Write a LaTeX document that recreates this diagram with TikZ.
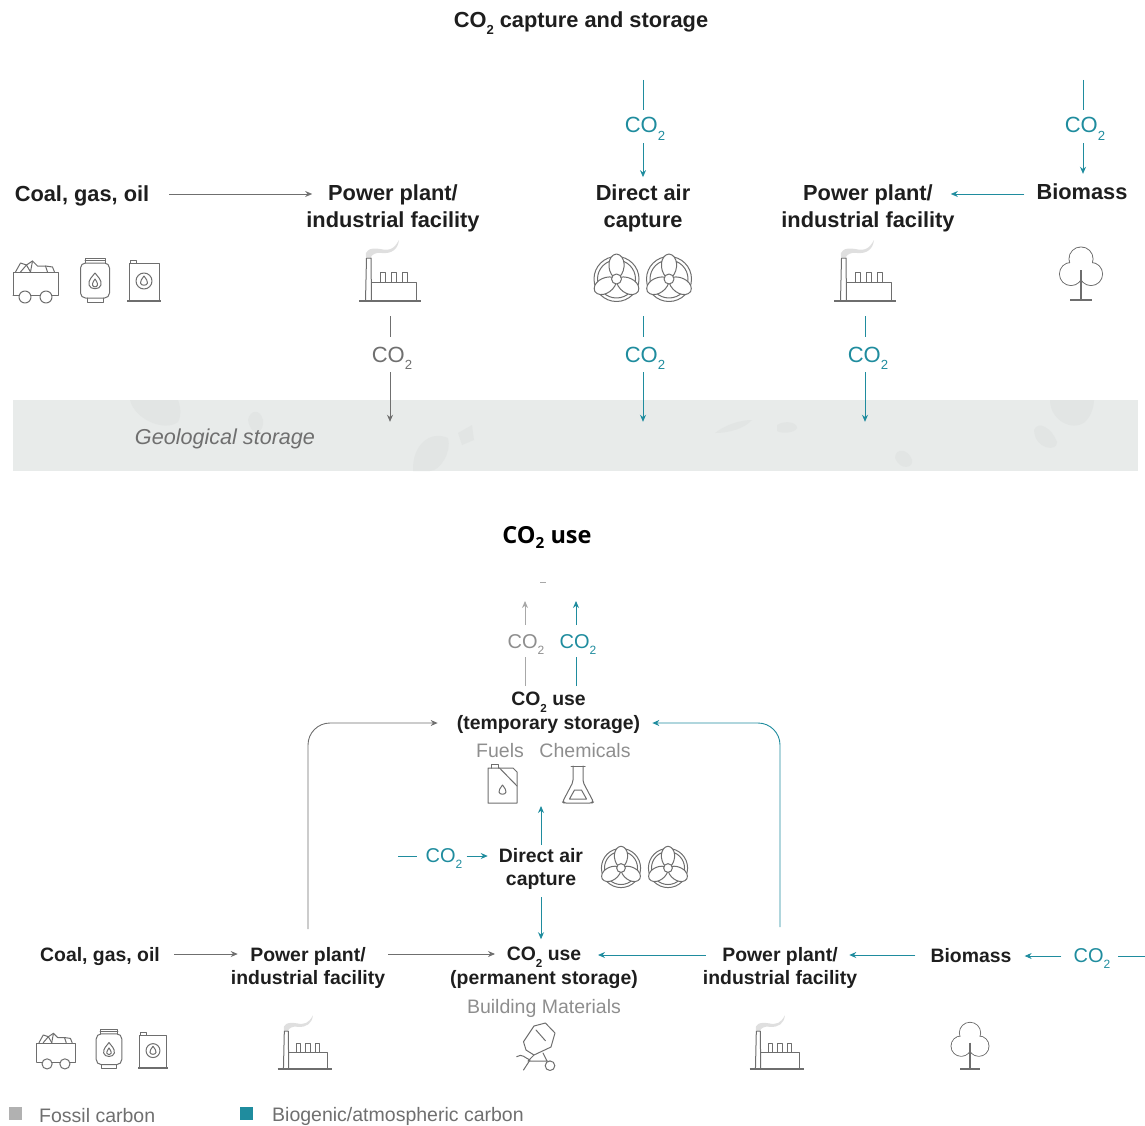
\documentclass[tikz,border=0pt]{standalone}
\usepackage{fontspec}
\setmainfont{Liberation Sans}
\newfontfamily\osans{Open Sans}
\usetikzlibrary{arrows.meta}
\definecolor{tealc}{HTML}{1F8C9E}
\definecolor{darkl}{HTML}{6F6F6F}
\definecolor{lightl}{HTML}{A8A8A8}
\definecolor{grayt}{HTML}{8E8E8E}
\definecolor{icon}{HTML}{6E6E6E}
\definecolor{inkc}{HTML}{1E1E1E}
\definecolor{geofill}{HTML}{E8EBEA}
\definecolor{geoblob}{HTML}{E2E5E4}
\newcommand\cotwo{CO\smash{\raisebox{-.32em}{\scalebox{.6}{2}}}}
\tikzset{
 x=1pt,y=-1pt,
 big/.style={font=\fontsize{21.8}{27}\selectfont\bfseries,text=inkc,align=center,inner sep=0pt},
 small/.style={font=\fontsize{19.4}{23.5}\selectfont\bfseries,text=inkc,align=center,inner sep=0pt},
 onebig/.style={big,text height=18pt,text depth=4pt},
 onesmall/.style={small,text height=18pt,text depth=3.5pt},
 cobig/.style={font=\fontsize{22}{26}\selectfont,inner sep=0pt,text height=18pt,text depth=4pt},
 cosmall/.style={font=\fontsize{20}{24}\selectfont,inner sep=0pt,text height=16pt,text depth=3.5pt},
 greytext/.style={font=\fontsize{19.5}{23}\selectfont,text=grayt,inner sep=0pt,text height=14.5pt,text depth=3.5pt},
 conn/.style={line width=.9pt},
 tip/.style={-{Stealth[length=7pt,width=6pt]}},
 gline/.style={conn,draw=darkl},
 lline/.style={conn,draw=lightl},
 tline/.style={conn,draw=tealc},
 ic/.style={draw=icon,line width=1pt,line join=round,line cap=round},
 thickbase/.style={draw=icon,line width=1.8pt},
 blob/.style={fill=geoblob,draw=none},
 factoryicon/.pic={
  \fill[gray!25] (-24,-44) .. controls (-26,-50) and (-20,-54) .. (-10,-52) .. controls (0,-50) and (4,-52) .. (9,-61) .. controls (8,-52) and (2,-47) .. (-8,-48) .. controls (-15,-49) and (-18,-46) .. (-19,-44) -- cycle;
  \draw[ic] (-24.5,0) -- (-23.5,-43) -- (-19,-43) -- (-18.5,0);
  \draw[ic] (-18.5,-19) -- (26,-19) -- (26,0);
  \foreach \q in {-10,1,12}{\draw[ic] (\q,-19) -- (\q,-29) -- (\q+5,-29) -- (\q+5,-19);}
  \draw[thickbase] (-31,0) -- (31,0);
 },
 treeicon/.pic={
  \foreach \p/\r in {(0,-41)/12,(-10,-26)/11.5,(10,-26)/11.5}{\draw[ic] \p circle (\r);}
  \foreach \p/\r in {(0,-41)/11.5,(-10,-26)/11,(10,-26)/11}{\fill[white] \p circle (\r);}
  \fill[white] (0,-36) -- (-8,-24) -- (8,-24) -- cycle;
  \draw[thickbase] (0,-30) -- (0,0);
  \draw[thickbase] (-11,0) -- (11,0);
 },
 fanicon/.pic={
  \draw[ic] (0,0) circle (22.5);
  \draw[ic] (0,0) circle (19);
  \foreach \a in {0,120,240}{
   \draw[ic,fill=white,rotate=\a] (-3,-2) .. controls (-10,-9) and (-9,-24) .. (0,-25) .. controls (9,-24) and (10,-9) .. (3,-2) -- cycle;
  }
  \draw[ic,fill=white] (0,0) circle (5);
 },
 carticon/.pic={
  \draw[ic] (-20,-31) -- (-15,-40) -- (-9,-38) -- (-3,-42) -- (2,-37) -- (10,-37) -- (12,-31);
  \draw[ic] (-15,-31) -- (-9,-38) -- (-5,-31);
  \draw[ic] (-3,-42) -- (-5,-31);
  \draw[ic] (10,-37) -- (17,-36) -- (19,-31);
  \draw[ic] (-22.5,-8) -- (-22.5,-30.5) -- (22.5,-30.5) -- (22.5,-8) -- (-22.5,-8);
  \draw[ic,fill=white] (-10.5,-6) circle (6);
  \draw[ic,fill=white] (10.5,-6) circle (6);
 },
 cylicon/.pic={
  \draw[ic,rounded corners=5pt] (-14.5,-40) rectangle (14.5,-5);
  \draw[ic] (-10,-40) -- (-10,-45) -- (10,-45) -- (10,-40);
  \draw[ic] (-10,-42.5) -- (10,-42.5);
  \draw[ic] (-8,-5) -- (-8,-1) -- (8,-1) -- (8,-5);
  \draw[ic] (0,-30) .. controls (-3,-26) and (-7,-23) .. (-6,-18) .. controls (-5,-13) and (5,-13) .. (6,-18) .. controls (7,-23) and (3,-26) .. (0,-30) -- cycle;
  \draw[ic] (0,-24) .. controls (-2,-21) and (-3,-19) .. (-2.5,-18) .. controls (-2,-15.5) and (2,-15.5) .. (2.5,-18) .. controls (3,-19) and (2,-21) .. (0,-24) -- cycle;
 },
 drumicon/.pic={
  \draw[ic] (-15,0) -- (-15,-37.5) -- (15,-37.5) -- (15,0);
  \draw[ic] (-14,-37.5) -- (-14,-40.5) -- (-8,-40.5) -- (-8,-37.5);
  \draw[ic] (0,-20) circle (8);
  \draw[ic] (0,-25) .. controls (-2,-22) and (-4,-20) .. (-3.5,-18) .. controls (-3,-15) and (3,-15) .. (3.5,-18) .. controls (4,-20) and (2,-22) .. (0,-25) -- cycle;
  \draw[thickbase] (-17,0) -- (17,0);
 },
 canicon/.pic={
  \draw[ic] (-14.5,-35) -- (-14.5,0) -- (14.5,0) -- (14.5,-31) -- (10.5,-35) -- cycle;
  \draw[ic] (-3,-35) -- (14.5,-17);
  \draw[ic] (-11,-35) -- (-11,-39) -- (-4,-39) -- (-4,-35);
  \draw[ic] (0,-18) .. controls (-2,-15) and (-4,-13) .. (-3.5,-11) .. controls (-3,-8) and (3,-8) .. (3.5,-11) .. controls (4,-13) and (2,-15) .. (0,-18) -- cycle;
 },
 flaskicon/.pic={
  \draw[ic] (-7,-37) -- (7,-37);
  \draw[ic,rounded corners=2pt] (-5,-37) -- (-5,-21) -- (-15.5,-1) -- (-14,0) -- (14,0) -- (15.5,-1) -- (5,-21) -- (5,-37);
  \draw[ic] (-8.5,-4) -- (8.5,-4) -- (3.5,-13) -- (-3.5,-13) -- cycle;
 },
 mixericon/.pic={
  \draw[ic] (-16.5,-28.3) -- (-6,-44) -- (5.4,-47) -- (15,-37) -- (11,-23) -- (-6,-15) -- (-14,-20) -- cycle;
  \draw[ic] (-4,-40) -- (5.4,-29.3);
  \draw[ic] (-6,-15) -- (-12,-9) -- (7,-9) -- (3,-17);
  \draw[ic] (-10,-10) -- (-16.5,0);
  \draw[ic] (-23.3,-13.3) .. controls (-18,-17) and (-15,-12) .. (-10,-10);
  \draw[ic] (7,-9) -- (10,-8);
  \draw[ic,fill=white] (10,-4.3) circle (4.8);
 },
}
\begin{document}
\begin{tikzpicture}
\useasboundingbox (0,0) rectangle (1145,1126);
% Geological storage band
\node[fill=geofill,draw=none,minimum width=1125pt,minimum height=71pt,inner sep=0pt] (geo) at (575.5,435.5) {};
\fill[blob] (130,400) .. controls (135,420) and (165,432) .. (178,422) .. controls (182,415) and (180,405) .. (178,400) -- cycle;
\fill[blob] (248,420) .. controls (250,410) and (260,408) .. (263,420) .. controls (265,432) and (252,440) .. (248,420) -- cycle;
\fill[blob] (413,471) .. controls (412,445) and (430,430) .. (448,438) .. controls (452,452) and (440,471) .. (430,471) -- cycle;
\fill[blob] (458,433) -- (472,425) -- (474,440) -- (462,445) -- cycle;
\fill[blob] (715,433) .. controls (725,425) and (740,420) .. (752,420) .. controls (745,428) and (730,433) .. (715,433) -- cycle;
\fill[blob] (777,425) .. controls (785,420) and (797,422) .. (797,428) .. controls (795,433) and (782,434) .. (777,431) -- cycle;
\fill[blob] (895,458) .. controls (895,448) and (908,448) .. (912,460) .. controls (914,468) and (900,471) .. (895,458) -- cycle;
\fill[blob] (1050,400) .. controls (1050,420) and (1072,432) .. (1085,422) .. controls (1092,415) and (1094,405) .. (1094,400) -- cycle;
\fill[blob] (1034,430) .. controls (1038,420) and (1052,428) .. (1057,442) .. controls (1058,452) and (1035,450) .. (1034,430) -- cycle;
\node[font=\fontsize{21.6}{26}\selectfont\itshape,text=darkl,inner sep=0pt] (geot) at (225,439) {Geological storage};

% Top titles and texts
\node[font=\fontsize{21.8}{26}\selectfont\bfseries,text=inkc,inner sep=0pt] (t1) at (581,22) {\cotwo{} capture and storage};
\node[onebig] (coal1) at (82,194) {Coal, gas, oil};
\node[big] (plant1) at (393,208) {Power plant/\\industrial facility};
\node[big] (dac1) at (643,208) {Direct air\\capture};
\node[big] (plant2) at (868,208) {Power plant/\\industrial facility};
\node[onebig] (bio1) at (1082,193) {Biomass};
\node[cobig,text=tealc] (coa) at (645,126) {\cotwo};
\node[cobig,text=tealc] (cob) at (1085,126) {\cotwo};
\node[cobig,text=darkl] (coc) at (392,355) {\cotwo};
\node[cobig,text=tealc] (cod) at (645,355) {\cotwo};
\node[cobig,text=tealc] (coe) at (868,355) {\cotwo};

% Top icons
\pic at (35.5,303) {carticon};
\pic at (95,303) {cylicon};
\pic at (144,301) {drumicon};
\coordinate (fac1) at (390,301);
\pic at (fac1) {factoryicon};
\pic at (616.5,279) {fanicon};
\pic at (669,279) {fanicon};
\coordinate (fanb) at (643,301);
\coordinate (fac2) at (865,301);
\pic at (fac2) {factoryicon};
\pic at (1081,300) {treeicon};

% Top connectors
\coordinate (fa) at (643,80);
\coordinate (fb) at (1083,80);
\draw[gline,tip,shorten <=20pt,shorten >=-6pt] (coal1.east) -- (coal1.east -| plant1.west);
\draw[tline,tip,shorten <=12pt,shorten >=-4pt] (bio1.west |- coal1.east) -- (coal1.east -| plant2.east);
\draw[tline,shorten >=5pt] (fa) -- (fa |- coa.north);
\draw[tline,tip,shorten <=6pt,shorten >=7pt] (fa |- coa.south) -- (dac1.north);
\draw[tline,shorten >=5pt] (fb) -- (fb |- cob.north);
\draw[tline,tip,shorten <=6pt,shorten >=8pt] (fb |- cob.south) -- (fb |- bio1.north);
\draw[gline,shorten <=15pt,shorten >=7pt] (fac1) -- (fac1 |- coc.north);
\draw[gline,tip,shorten <=6pt,shorten >=-22pt] (fac1 |- coc.south) -- (fac1 |- geo.north);
\draw[tline,shorten <=15pt,shorten >=7pt] (fanb) -- (fanb |- cod.north);
\draw[tline,tip,shorten <=6pt,shorten >=-22pt] (fanb |- cod.south) -- (fanb |- geo.north);
\draw[tline,shorten <=15pt,shorten >=7pt] (fac2) -- (fac2 |- coe.north);
\draw[tline,tip,shorten <=6pt,shorten >=-22pt] (fac2 |- coe.south) -- (fac2 |- geo.north);

% Bottom texts
\node[font=\fontsize{23.5}{28}\selectfont\osans\bfseries,text=black,inner sep=0pt] (t2) at (547,535) {CO\smash{\raisebox{-.2em}{\scalebox{.65}{2}}} use};
\draw[draw=lightl,line width=.7pt] (540,582) -- (546,582);
\node[cosmall,text=grayt] (cof) at (526,642) {\cotwo};
\node[cosmall,text=tealc] (cog) at (578,642) {\cotwo};
\node[small] (temp) at (548.5,713) {\cotwo{} use\\(temporary storage)};
\node[greytext] (fuels) at (500,752) {Fuels};
\node[greytext] (chem) at (585,752) {Chemicals};
\node[small] (dac2) at (541,869) {Direct air\\capture};
\node[cosmall,text=tealc] (coh) at (444,856) {\cotwo};
\node[onesmall] (coal2) at (100,954) {Coal, gas, oil};
\node[small] (plant3) at (308,968) {Power plant/\\industrial facility};
\node[small] (perm) at (544,968) {\cotwo{} use\\(permanent storage)};
\node[greytext] (bmat) at (544,1008) {Building Materials};
\node[small] (plant4) at (780,968) {Power plant/\\industrial facility};
\node[onesmall] (bio2) at (971,955) {Biomass};
\node[cosmall,text=tealc] (coi) at (1092,956) {\cotwo};

% Bottom icons
\pic at (502.5,803) {canicon};
\pic at (578,803) {flaskicon};
\pic[scale=.87] at (621,868) {fanicon};
\pic[scale=.87] at (668,868) {fanicon};
\pic[scale=.85] at (56,1069) {carticon};
\pic[scale=.88] at (109,1069) {cylicon};
\pic[scale=.87] at (153,1068) {drumicon};
\pic[scale=.88] at (305,1069) {factoryicon};
\pic at (540,1070) {mixericon};
\pic[scale=.88] at (777,1069) {factoryicon};
\pic[scale=.88] at (970,1069) {treeicon};

% Bottom connectors
\coordinate (gtip) at (525,601);
\coordinate (ttip) at (576,601);
\coordinate (uptip) at (541,806);
\coordinate (fc) at (398,856);
\coordinate (fd) at (1145,956);
\draw[lline,shorten <=6pt,shorten >=5pt] (gtip |- temp.north) -- (gtip |- cof.south);
\draw[lline,tip,shorten <=7pt] (gtip |- cof.north) -- (gtip);
\draw[tline,shorten <=6pt,shorten >=5pt] (ttip |- temp.north) -- (ttip |- cog.south);
\draw[tline,tip,shorten <=7pt] (ttip |- cog.north) -- (ttip);
\draw[tline,tip] (dac2.north |- 0,845) -- (uptip);
\draw[tline,shorten >=8pt] (fc) -- (coh.west);
\draw[tline,tip,shorten <=4pt,shorten >=11pt] (coh.east) -- (coh.east -| dac2.west);
\draw[tline,tip,shorten <=7pt,shorten >=8pt] (dac2.south) -- (dac2.south |- perm.north);
\draw[gline,tip,shorten <=14pt,shorten >=-7pt] (coal2.east) -- (coal2.east -| plant3.west);
\draw[gline,tip,shorten <=3pt,shorten >=-45pt] (plant3.east |- coal2.east) -- (perm.west |- coal2.east);
\draw[tline,tip,shorten <=-3pt,shorten >=-40pt] (plant4.west |- bio2.west) -- (perm.east |- bio2.west);
\draw[tline,tip,shorten <=15pt,shorten >=-8pt] (bio2.west) -- (bio2.west -| plant4.east);
\draw[tline,tip,shorten <=12pt,shorten >=13pt] (coi.west) -- (coi.west -| bio2.east);
\draw[tline,shorten >=7pt] (fd) -- (coi.east);
\draw[gline,tip,rounded corners=22pt,shorten <=18pt,shorten >=19pt] (plant3.north) -- (plant3.north |- 0,723) -- (temp.west |- 0,723);
\draw[tline,tip,rounded corners=22pt,shorten <=20pt,shorten >=12pt] (plant4.north) -- (plant4.north |- 0,723) -- (temp.east |- 0,723);

% Legend
\fill[fill=lightl!90] (9,1107) rectangle (22,1120);
\fill[fill=tealc] (240,1107) rectangle (253,1120);
\node[font=\fontsize{19.5}{23}\selectfont,text=darkl,inner sep=0pt,anchor=west] (lg1) at (39,1116) {Fossil carbon};
\node[font=\fontsize{19.5}{23}\selectfont,text=darkl,inner sep=0pt,anchor=west] (lg2) at (272,1116) {Biogenic/atmospheric carbon};
\end{tikzpicture}
\end{document}
